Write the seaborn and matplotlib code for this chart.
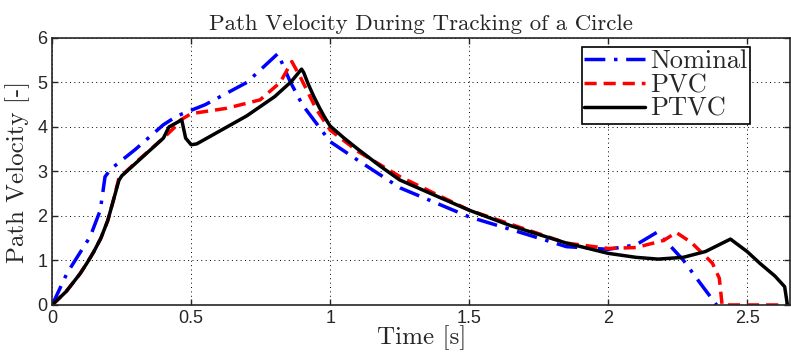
import numpy as np
import pandas as pd
import matplotlib
matplotlib.use('Agg')
import matplotlib.pyplot as plt
import seaborn as sns

# values
t_nom = [0, 0.053, 0.137, 0.173, 0.19, 0.21, 0.3, 0.4, 0.45, 0.55, 0.7, 0.812, 0.856, 0.9, 1.0,
         1.1, 1.252, 1.5, 1.7, 1.85, 2.0, 2.1, 2.175, 2.22, 2.27, 2.33, 2.39]
v_nom = [0, 0.71, 1.54, 2.13, 2.88, 3.05, 3.5, 4.05, 4.25, 4.5, 5.0, 5.65, 5.02, 4.5, 3.67,
         3.25, 2.63, 1.98, 1.6, 1.31, 1.25, 1.35, 1.63, 1.35, 1.01, 0.5, 0.0]

t_pvc = [0, 0.05, 0.1, 0.125, 0.15, 0.175, 0.2, 0.22, 0.24, 0.3, 0.4, 0.45, 0.46, 0.5, 0.628,
         0.748, 0.82, 0.862, 0.892, 0.95, 1.0, 1.1, 1.252, 1.5, 1.85, 2.0, 2.1, 2.2, 2.245,
         2.3, 2.375, 2.4, 2.41, 2.645]
v_pvc = [0, 0.3, 0.7, 0.94, 1.2, 1.5, 1.9, 2.35, 2.85, 3.2, 3.75, 4.05, 4.15, 4.3, 4.42,
         4.61, 5.0, 5.47, 5.13, 4.4, 3.93, 3.45, 2.88, 2.13, 1.39, 1.27, 1.29, 1.45, 1.63,
         1.4, 0.94, 0.6, 0.0, 0.0]

t_ptvc = [0, 0.05, 0.1, 0.125, 0.15, 0.175, 0.2, 0.22, 0.24, 0.25, 0.4, 0.42, 0.466, 0.48,
          0.5, 0.52, 0.6, 0.7, 0.8, 0.86, 0.897, 0.905, 0.92, 0.94, 0.96, 0.98, 1.0, 1.05,
          1.1, 1.18, 1.25, 1.4, 1.5, 1.65, 1.85, 2.0, 2.1, 2.18, 2.27, 2.35, 2.44, 2.5, 2.545,
          2.6, 2.635, 2.645]
v_ptvc = [0, 0.3, 0.7, 0.94, 1.2, 1.5, 1.9, 2.35, 2.8, 2.9, 3.75, 4.0, 4.16, 3.75,
          3.6, 3.62, 3.9, 4.25, 4.68, 5.02, 5.3, 5.22, 4.98, 4.7, 4.45, 4.22, 4.02, 3.75,
          3.5, 3.12, 2.81, 2.4, 2.13, 1.78, 1.39, 1.16, 1.07, 1.03, 1.07, 1.2, 1.48, 1.2, 0.94,
          0.65, 0.41, 0.0]

sns.set_style('ticks')
plt.rcParams['font.family'] = ['Liberation Sans', 'DejaVu Sans']
serif = ['cmr10', 'DejaVu Serif']

fig = plt.figure(figsize=(7.91, 3.55), dpi=100)
ax = fig.add_axes([0.066, 0.141, 0.933, 0.752])

sns.lineplot(x=t_nom, y=v_nom, ax=ax, color='blue', lw=2.5, label='Nominal', sort=False)
sns.lineplot(x=t_pvc, y=v_pvc, ax=ax, color='red', lw=2.5, label='PVC', sort=False)
sns.lineplot(x=t_ptvc, y=v_ptvc, ax=ax, color='black', lw=2.5, label='PTVC', sort=False)
ax.lines[0].set_dashes([6, 2.5, 1, 2.5])
ax.lines[1].set_dashes([3.5, 2])

ax.set_xlim(0, 2.655)
ax.set_ylim(0, 6)
ax.set_xticks([0, 0.5, 1, 1.5, 2, 2.5])
ax.set_xticklabels(['0', '0.5', '1', '1.5', '2', '2.5'])
ax.set_yticks(range(7))
ax.grid(True, color='black', linestyle=(0, (1, 3.5)), lw=0.7)
ax.tick_params(direction='in', top=True, right=True, labelsize=13, length=4, width=1)
for s in ax.spines.values():
    s.set_linewidth(1.2)

ax.set_title('Path Velocity During Tracking of a Circle', family=serif, fontsize=16.5, pad=6)
ax.set_xlabel('Time [s]', family=serif, fontsize=18, labelpad=-1)
ax.set_ylabel('Path Velocity [-]', family=serif, fontsize=18, labelpad=5)

leg = ax.legend(loc='upper right', prop={'family': serif, 'size': 19}, fancybox=False,
                edgecolor='black', framealpha=1, handlelength=2.3, handletextpad=0.2,
                labelspacing=0.0, borderpad=0.1, borderaxespad=0,
                bbox_to_anchor=(0.946, 0.966))
leg.get_frame().set_linewidth(1.2)

fig.savefig('out.png', dpi=100)
